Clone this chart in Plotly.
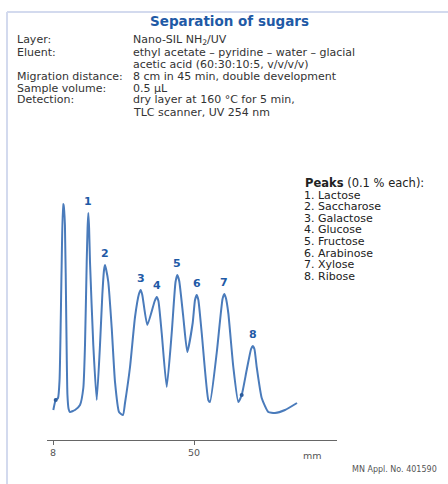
import plotly.graph_objects as go

# ---- data (migration distance in mm, detector signal in arbitrary units)
distance_mm = [8.09, 8.8, 9.49, 9.95, 10.55, 11.0, 11.15, 11.55, 11.95, 12.3, 12.65, 13.06, 14.55, 16.04,
               17.03, 17.53, 18.04, 18.3, 18.52, 18.75, 19.02, 20.0, 21.02, 22.0, 22.69, 23.2, 23.49, 23.8,
               24.47, 25.49, 26.47, 27.66, 28.85, 29.45, 30.94, 32.43, 33.6, 34.12, 34.6, 36.09, 38.3,
               38.89, 39.4, 40.38, 41.87, 43.36, 44.5, 45.03, 45.6, 46.81, 48.0, 49.61, 50.3, 50.81,
               51.3, 52.3, 54.26, 54.77, 56.76, 58.5, 59.03, 59.5, 60.22, 61.71, 63.2, 64.21, 65.7,
               67.0, 67.49, 68.0, 68.68, 70.17, 72.13, 74.13, 77.11, 80.68]
signal = [30, 40, 42, 60, 170, 236, 235, 215, 120, 45, 31, 28, 30, 35,
          52, 95, 178, 212, 227, 212, 178, 95, 40, 95, 145, 170, 175, 171,
          158, 112, 58, 28, 25, 37, 73, 123, 146, 150, 145, 115, 139,
          143, 139, 107, 53, 107, 158, 165, 159, 123, 88, 117, 140, 145,
          140, 107, 40, 38, 87, 141, 146, 142, 127, 73, 38, 45, 70,
          91, 94, 91, 73, 42, 28, 27, 30, 37]

peak_numbers = ["1", "2", "3", "4", "5", "6", "7", "8"]
peak_mm = [18.52, 23.49, 34.12, 38.89, 45.03, 50.81, 59.03, 67.49]
peak_signal = [227, 175, 150, 143, 165, 145, 146, 94]

marker_mm = [8.8, 64.21]
marker_signal = [40, 45]

tick_values = [8, 50]
tick_labels = ["8", "50"]

peak_names = ["Lactose", "Saccharose", "Galactose", "Glucose", "Fructose", "Arabinose", "Xylose", "Ribose"]

info_labels = ["Layer:", "Eluent:", "", "Migration distance:", "Sample volume:", "Detection:", ""]
info_values = ["Nano-SIL NH<sub>2</sub>/UV",
               "ethyl acetate – pyridine – water – glacial",
               "acetic acid (60:30:10:5, v/v/v/v)",
               "8 cm in 45 min, double development",
               "0.5 µL",
               "dry layer at 160 °C for 5 min,",
               "TLC scanner, UV 254 nm"]

# ---- layout geometry (pixels)
W, H = 448, 484
PL, PR, PT, PB = 47, 337, 200, 440  # plot area in pixels


def px(x):
    return (x - PL) / (PR - PL)


def py(y):
    return (PB - y) / (PB - PT)


LINE = "#4a7bbb"
BLUE = "#1f5aa6"
TEXT = "#333333"
SANS = "DejaVu Sans, Verdana, sans-serif"
VERD = "DejaVu Sans, Verdana, sans-serif"

fig = go.Figure()
fig.add_trace(go.Scatter(x=distance_mm, y=signal, mode="lines",
                         line=dict(color=LINE, width=2, shape="spline", smoothing=0.5),
                         hoverinfo="skip", showlegend=False))
fig.add_trace(go.Scatter(x=marker_mm, y=marker_signal, mode="markers",
                         marker=dict(color="#2c5c9c", size=4), hoverinfo="skip", showlegend=False))

ann = []
for n, xm, ys in zip(peak_numbers, peak_mm, peak_signal):
    ann.append(dict(x=xm, y=ys, xref="x", yref="y", text=f"<b>{n}</b>", showarrow=False,
                    yanchor="middle", yshift=12, font=dict(family=VERD, size=11, color=BLUE)))

# title
ann.append(dict(x=px(229), y=py(21), xref="paper", yref="paper", text="<b>Separation of sugars</b>",
                showarrow=False, xanchor="center", yanchor="middle",
                font=dict(family=VERD, size=13.5, color=BLUE)))

# info block
row_y = [40, 52, 64, 76, 88, 100, 112]
for lab, val, yy in zip(info_labels, info_values, row_y):
    if lab:
        ann.append(dict(x=px(16), y=py(yy), xref="paper", yref="paper", text=lab, showarrow=False,
                        xanchor="left", yanchor="middle", borderpad=0,
                        font=dict(family=SANS, size=11, color=TEXT)))
    ann.append(dict(x=px(132), y=py(yy), xref="paper", yref="paper", text=val, showarrow=False,
                    xanchor="left", yanchor="middle", borderpad=0,
                    font=dict(family=SANS, size=11, color=TEXT)))

# peak list
ann.append(dict(x=px(304), y=py(183), xref="paper", yref="paper",
                text="<b>Peaks</b> (0.1 % each):", showarrow=False, xanchor="left", yanchor="middle",
                borderpad=0, font=dict(family=SANS, size=11.5, color="#222222")))
for i, name in enumerate(peak_names):
    ann.append(dict(x=px(303), y=py(195 + i * 11.6), xref="paper", yref="paper",
                    text=f"{i + 1}. {name}", showarrow=False, xanchor="left", yanchor="middle",
                    borderpad=0, font=dict(family=SANS, size=11, color="#222222")))

# axis unit and application number
ann.append(dict(x=px(312), y=py(455), xref="paper", yref="paper", text="mm", showarrow=False,
                xanchor="center", yanchor="middle", font=dict(family=SANS, size=9.5, color="#555555")))
ann.append(dict(x=px(439), y=py(469), xref="paper", yref="paper", text="MN Appl. No. 401590",
                showarrow=False, xanchor="right", yanchor="middle",
                font=dict(family=SANS, size=8, color="#555555")))

shapes = [
    dict(type="line", xref="paper", yref="paper", x0=px(7), x1=px(448), y0=py(12), y1=py(12),
         line=dict(color="#d3daee", width=2)),
    dict(type="line", xref="paper", yref="paper", x0=px(7), x1=px(7), y0=py(12), y1=py(484),
         line=dict(color="#d3daee", width=2)),
]

fig.update_layout(
    width=W, height=H,
    margin=dict(l=PL, r=W - PR, t=PT, b=H - PB, pad=0),
    paper_bgcolor="white", plot_bgcolor="white",
    showlegend=False,
    annotations=ann, shapes=shapes,
    xaxis=dict(range=[6.21, 92.6], showgrid=False, zeroline=False, showline=True,
               linecolor="#666666", linewidth=1, ticks="outside", ticklen=4, tickcolor="#666666",
               tickvals=tick_values, ticktext=tick_labels,
               tickfont=dict(family=SANS, size=9.5, color="#555555")),
    yaxis=dict(range=[0, 240], visible=False, showgrid=False, zeroline=False),
)

fig.write_html("out.html", config={"displayModeBar": False},
               post_script="document.body.style.margin='0';document.body.style.padding='0';")
